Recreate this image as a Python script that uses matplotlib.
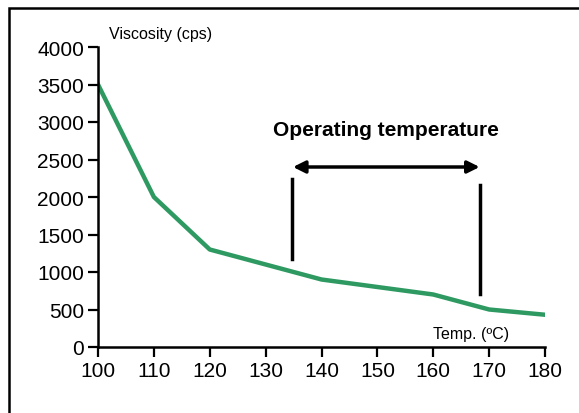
import matplotlib
matplotlib.use("Agg")
import matplotlib.pyplot as plt
from matplotlib.patches import Rectangle

temps = [100, 110, 120, 130, 140, 150, 160, 170, 180]
viscosity = [3500, 2000, 1300, 1100, 900, 800, 700, 500, 430]
x_ticks = [100, 110, 120, 130, 140, 150, 160, 170, 180]
y_ticks = [0, 500, 1000, 1500, 2000, 2500, 3000, 3500, 4000]
op_range = [134.7, 168.4]
op_left_line = [1170, 2240]
op_right_line = [710, 2160]
arrow_y = 2400

plt.rcParams['font.family'] = ['Liberation Sans', 'DejaVu Sans']

fig = plt.figure(figsize=(5.79, 4.14), dpi=100)
fig.patches.append(Rectangle((8.5/579, -0.1), 1.2, 1.1 - 8.5/414, transform=fig.transFigure,
                             fill=False, edgecolor='black', lw=1.8))
ax = fig.add_axes([98/579, 66/414, (545-98)/579, 300/414])
ax.plot(temps, viscosity, color='#2E9A62', lw=3.2, solid_joinstyle='round')
ax.set_xlim(100, 180)
ax.set_ylim(0, 4000)
ax.set_xticks(x_ticks)
ax.set_yticks(y_ticks)
ax.tick_params(direction='out', length=7, width=1.6, labelsize=15, pad=3)
for s in ['top', 'right']:
    ax.spines[s].set_visible(False)
for s in ['left', 'bottom']:
    ax.spines[s].set_linewidth(1.8)

ax.plot([op_range[0], op_range[0]], op_left_line, color='black', lw=2.5)
ax.plot([op_range[1], op_range[1]], op_right_line, color='black', lw=2.5)
ax.annotate('', xy=(op_range[0] + 0.2, arrow_y), xytext=(op_range[1] - 0.1, arrow_y),
            arrowprops=dict(arrowstyle='<|-|>', color='black', lw=2.5, mutation_scale=18,
                            shrinkA=0, shrinkB=0))
ax.text(151.6, 2900, 'Operating temperature', fontsize=15, fontweight='bold',
        ha='center', va='center')
fig.text(161/579, 1 - 35/414, 'Viscosity (cps)', fontsize=11.5, ha='center', va='center')
fig.text(471/579, 1 - 334/414, 'Temp. (ºC)', fontsize=11.5, ha='center', va='center')

fig.savefig('out.png', dpi=100)
